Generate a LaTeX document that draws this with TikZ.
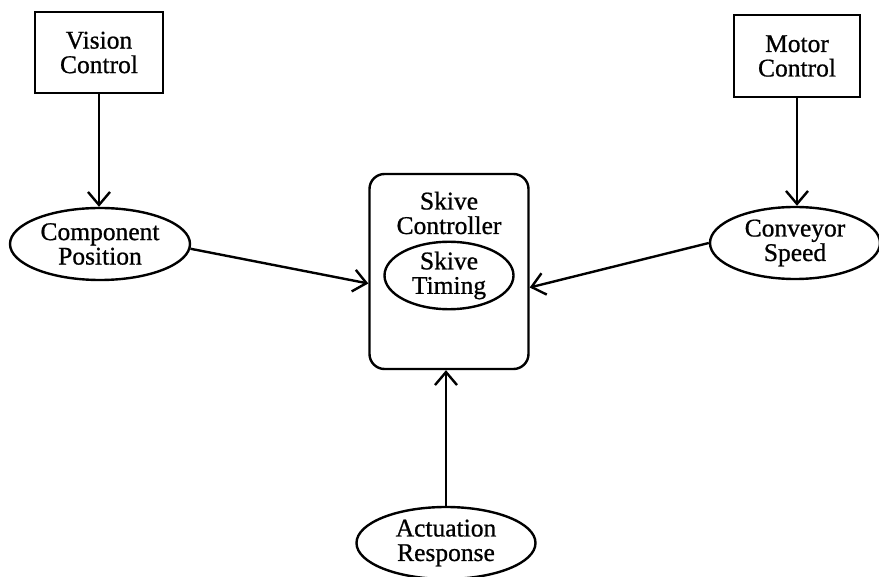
\documentclass[tikz,border=0pt]{standalone}
\usepackage{fontspec}
\setmainfont{Liberation Serif}[FakeBold=0.8]
\usetikzlibrary{shapes.geometric,arrows.meta}
\begin{document}
\begin{tikzpicture}[x=1pt,y=-1pt,
  every node/.style={font=\fontsize{25.5}{24.5}\selectfont, align=center, inner sep=0pt},
  ln/.style={line width=2.4pt},
  boxnode/.style={draw, ln, rectangle},
  ellnode/.style={draw, ln, ellipse},
  conn/.style={ln, -{Straight Barb[length=13pt,width=22pt,line width=2.4pt]}}]
\useasboundingbox (0,0) rectangle (879,577);
\node[boxnode, minimum width=128pt, minimum height=81pt] (vision) at (99,52.5) {Vision\\Control};
\node[boxnode, minimum width=126pt, minimum height=82pt] (motor) at (797,56) {Motor\\Control};
\node[ellnode, minimum width=180pt, minimum height=72pt] (cp) at (100,244) {Component\\Position};
\node[ellnode, minimum width=170pt, minimum height=72pt] (cs) at (795,243) {Conveyor\\Speed};
\node[draw, ln, rectangle, rounded corners=15pt, minimum width=159pt, minimum height=195pt] (skive) at (449,271.5) {};
\node (sctext) at (449,213) {Skive\\Controller};
\node[ellnode, minimum width=129pt, minimum height=45pt] (timing) at (449,275.5) {Skive\\Timing};
\node[ellnode, minimum width=179pt, minimum height=72pt] (act) at (446,543) {Actuation\\Response};
\draw[conn] (vision.south) -- (vision.south |- cp.north);
\draw[conn] (motor.south) -- (motor.south |- cs.north);
\draw[conn] (cp.-3) -- ([yshift=-12pt]skive.west);
\draw[conn] (cs.west) -- ([yshift=-16pt]skive.east);
\draw[conn] (act.north) -- (act.north |- skive.south);
\end{tikzpicture}
\end{document}
